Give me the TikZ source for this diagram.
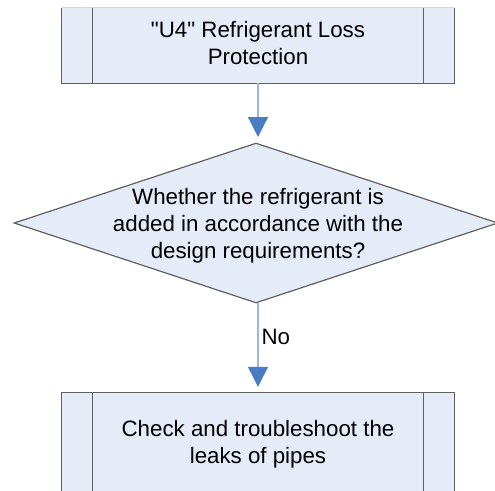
\documentclass[tikz,border=0pt]{standalone}
\usepackage{fontspec}
\newfontfamily\lsans{Liberation Sans}
\usetikzlibrary{shapes.geometric,arrows.meta}
\definecolor{boxfill}{HTML}{E6ECF7}
\definecolor{boxline}{HTML}{606060}
\definecolor{arrline}{HTML}{9DB8E0}
\definecolor{arrtip}{HTML}{4A7CC4}
\begin{document}
\begin{tikzpicture}[x=1pt,y=-1pt,
  txt/.style={font=\lsans\fontsize{22.3}{27}\selectfont, align=center, text=black},
  procbox/.style={fill=boxfill, draw=none, minimum width=392pt, inner sep=0pt},
  decision/.style={diamond, fill=boxfill, draw=boxline, line width=1.2pt, minimum width=484pt, minimum height=160pt, inner sep=0pt, aspect=3},
  edgeline/.style={boxline, line width=1.3pt},
  flow/.style={arrline, line width=1.2pt, -{Triangle[width=20pt,length=20pt,color=arrtip]}, shorten >=6pt},
]
\useasboundingbox (0,0) rectangle (495,490);
\clip (0,0) rectangle (495,490);
% top process box
\node[procbox, minimum height=75pt] (top) at (258,45.5) {};
\node[txt] (toptxt) at (258,43) {"U4" Refrigerant Loss\\Protection};
\draw[edgeline] (top.north west) -- (top.south west) -- (top.south east) -- (top.north east);
\draw[gray!30, line width=1pt] (top.north west) -- (top.north east);
\draw[edgeline] ([xshift=31pt]top.north west) -- ([xshift=31pt]top.south west);
\draw[edgeline] ([xshift=-31pt]top.north east) -- ([xshift=-31pt]top.south east);
% decision
\node[decision] (dec) at (256,223) {};
\node[txt] (dectxt) at (258,226) {Whether the refrigerant is\\added in accordance with the\\design requirements?};
% bottom process box
\node[procbox, minimum height=100pt] (bot) at (258,443) {};
\node[txt] (bottxt) at (258,444) {Check and troubleshoot the\\leaks of pipes};
\draw[edgeline] (bot.south west) -- (bot.north west) -- (bot.north east) -- (bot.south east);
\draw[edgeline] ([xshift=31pt]bot.north west) -- ([xshift=31pt]bot.south west);
\draw[edgeline] ([xshift=-31pt]bot.north east) -- ([xshift=-31pt]bot.south east);
% connectors
\coordinate (dectop) at (258,143);
\coordinate (decbot) at (258,303);
\draw[flow] (top.south) -- (dectop);
\draw[flow] (decbot) -- node[txt, right, pos=0.38, inner sep=3pt] (no) {No} (bot.north);
\end{tikzpicture}
\end{document}
